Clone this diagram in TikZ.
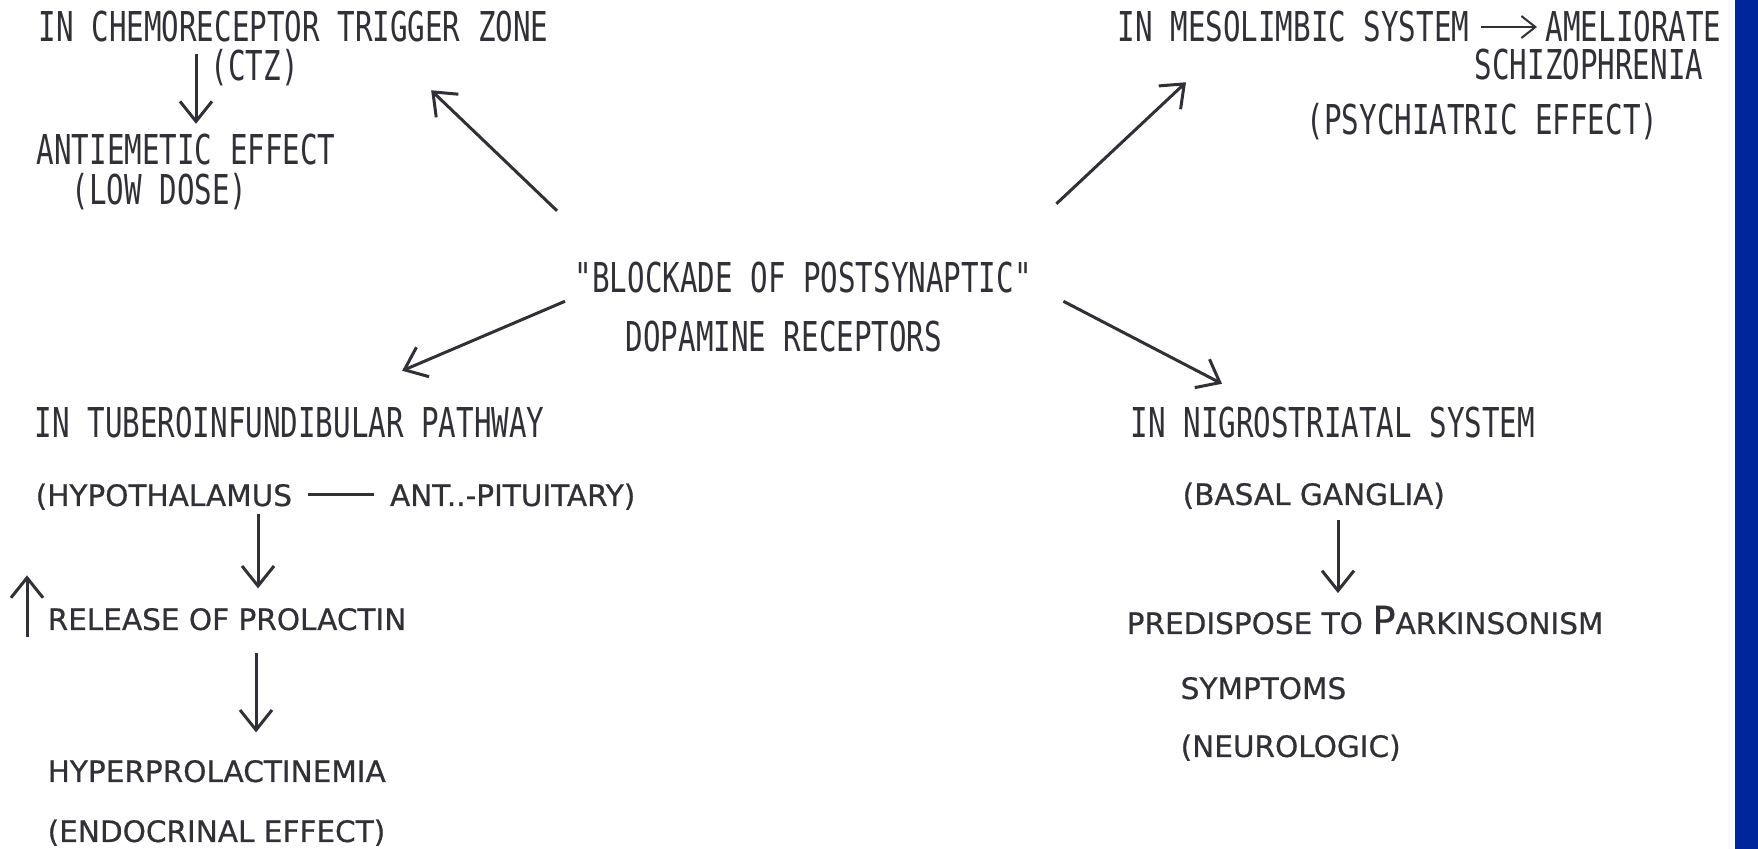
\documentclass[tikz,border=0pt]{standalone}
\usepackage{fontspec}
\usepackage{xcolor}
\usetikzlibrary{arrows.meta}
\newfontfamily\hurufA[FakeStretch=0.71]{DejaVu Sans Mono}
\newfontfamily\hurufB[FakeBold=0.6]{DejaVu Sans}
\definecolor{tinta}{RGB}{48,48,54}
\definecolor{biru}{RGB}{0,38,155}

\begin{document}
\begin{tikzpicture}[x=0.1mm, y=-0.1mm,
    judul/.style={anchor=base west, inner sep=0pt, text=tinta,
                  font=\hurufA\fontsize{11.7pt}{14pt}\selectfont},
    ket/.style={anchor=base west, inner sep=0pt, text=tinta,
                font=\hurufB\fontsize{8.4pt}{10pt}\selectfont},
    panah/.style={-{Straight Barb[length=2mm,width=3.2mm]}, line width=0.3mm, draw=tinta},
    panahtipis/.style={-{Straight Barb[length=1.4mm,width=2.2mm]}, line width=0.2mm, draw=tinta}
  ]
    \useasboundingbox (0,0) rectangle (1758,849);
    \fill[white] (0,0) rectangle (1758,849);
    \fill[biru] (1735,0) rectangle (1758,849);

    % kiri atas
    \node[judul] (chem) at (38,42)  {IN CHEMORECEPTOR TRIGGER ZONE};
    \node[judul] (ctz)  at (210,81) {(CTZ)};
    \node[judul] (anti) at (36,165) {ANTIEMETIC EFFECT};
    \node[judul] (dose) at (71,205) {(LOW DOSE)};

    % kanan atas
    \node[judul] (meso)   at (1117,42) {IN MESOLIMBIC SYSTEM};
    \node[judul] (amel)   at (1545,42) {AMELIORATE};
    \node[judul] (schizo) at (1474,80) {SCHIZOPHRENIA};
    \node[judul] (psych)  at (1306,135) {(PSYCHIATRIC EFFECT)};

    % tengah
    \node[judul] (block) at (574,293) {"BLOCKADE OF POSTSYNAPTIC"};
    \node[judul] (dopa)  at (625,352) {DOPAMINE RECEPTORS};

    % kiri bawah
    \node[judul] (tubero)  at (34,438) {IN TUBEROINFUNDIBULAR PATHWAY};
    \node[ket]   (hypo)    at (35,506) {(HYPOTHALAMUS\hspace{1.6mm}\rule[0.95mm]{6.6mm}{0.3mm}\hspace{1.6mm}ANT..-PITUITARY)};
    \node[ket]   (release) at (47,630) {RELEASE OF PROLACTIN};
    \node[ket]   (hyper)   at (47,782) {HYPERPROLACTINEMIA};
    \node[ket]   (endo)    at (47,842) {(ENDOCRINAL EFFECT)};

    % kanan bawah
    \node[judul] (nigro)  at (1130,438) {IN NIGROSTRIATAL SYSTEM};
    \node[ket]   (basal)  at (1182,505) {(BASAL GANGLIA)};
    \node[ket]   (predis) at (1126,634) {PREDISPOSE TO {\fontsize{11pt}{12pt}\selectfont P}ARKINSONISM};
    \node[ket]   (sympt)  at (1180,699) {SYMPTOMS};
    \node[ket]   (neuro)  at (1180,757) {(NEUROLOGIC)};

    % panah
    \draw[panah] ([shift={(-14,5)}]ctz.north west) -- ([shift={(160,-10)}]anti.north west);
    \draw[panah] ([shift={(-17,-51)}]block.north west) -- ([shift={(-118,47)}]chem.south east);
    \draw[panah] ([shift={(24,-58)}]block.north east) -- ([shift={(69,39)}]meso.south west);
    \draw[panah] ([shift={(-9,7)}]block.south west) -- ([shift={(-143,-36)}]tubero.north east);
    \draw[panah] ([shift={(31,7)}]block.south east) -- ([shift={(92,-23)}]nigro.north west);
    \draw[panahtipis] ([shift={(11,0)}]meso.east) -- ([shift={(-8,0)}]amel.west);
    \draw[panah] ([shift={(223,3)}]hypo.south west) -- ([shift={(211,-19)}]release.north west);
    \draw[panah] ([shift={(209,22)}]release.south west) -- ([shift={(209,-27)}]hyper.north west);
    \draw[panah] ([shift={(-20,6)}]release.south west) -- ([shift={(-20,-32)}]release.north west);
    \draw[panah] ([shift={(156,10)}]basal.south west) -- ([shift={(212,-12)}]predis.north west);
  \end{tikzpicture}
\end{document}
